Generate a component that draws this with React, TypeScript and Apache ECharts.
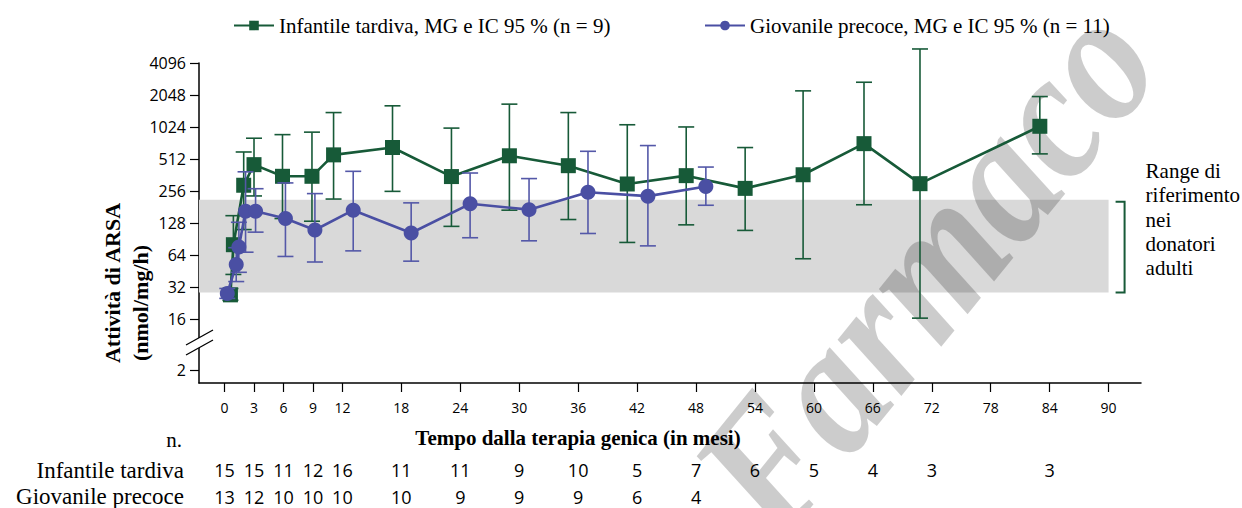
import React, { useEffect, useRef } from 'react';
import * as echarts from 'echarts';

// ---------- data ----------
const xTickValues = [0, 3, 6, 9, 12, 18, 24, 30, 36, 42, 48, 54, 60, 66, 72, 78, 84, 90];
const yTickValues = [16, 32, 64, 128, 256, 512, 1024, 2048, 4096];
const yBreakLabel = 2;

// Infantile tardiva (plotted months, geometric mean, 95% CI)
const greenMonths = [0.6, 0.9, 1.95, 3.0, 5.9, 8.9, 11.1, 17.1, 23.1, 29.0, 35.0, 41.0, 47.0, 53.0, 58.9, 65.1, 70.8, 83.0];
const greenMean = [27, 80, 290, 453, 352, 352, 560, 657, 350, 549, 443, 298, 357, 271, 364, 714, 300, 1040];
const greenLow = [24, 42, 111, 230, 141, 133, 215, 254, 119, 169, 138, 84, 123, 109, 59, 190, 16.3, 572];
const greenHigh = [31, 150, 596, 803, 868, 916, 1400, 1620, 1000, 1680, 1400, 1075, 1025, 656, 2240, 2700, 5550, 1980];

// Giovanile precoce
const blueMonths = [0.28, 1.19, 1.46, 2.14, 3.16, 6.2, 9.2, 13.1, 19.0, 25.0, 31.0, 37.0, 43.1, 49.0];
const blueMean = [27.8, 52, 76, 165, 165, 141, 110, 169, 103, 194, 171, 249, 229, 282];
const blueLow = [25, 36, 44, 68, 105, 62, 55, 70, 56, 93, 87, 102, 78, 188];
const blueHigh = [31, 75, 130, 388, 269, 305, 242, 392, 198, 378, 335, 605, 685, 430];

// reference range in adult donors
const refRange = [28.4, 212];

// numbers at risk
const tableMonthsInf = [0, 3, 6, 9, 12, 18, 24, 30, 36, 42, 48, 54, 60, 66, 72, 84];
const nInfantile = [15, 15, 11, 12, 16, 11, 11, 9, 10, 5, 7, 6, 5, 4, 3, 3];
const tableMonthsGio = [0, 3, 6, 9, 12, 18, 24, 30, 36, 42, 48];
const nGiovanile = [13, 12, 10, 10, 10, 10, 9, 9, 9, 6, 4];

const GREEN = '#175a38';
const BLUE = '#4a4fa3';
const SERIF = '"Liberation Serif", "Times New Roman", serif';
const SANS = '"Open Sans", "Liberation Sans", sans-serif';

const X_MIN = -2.6;
const X_MAX = 93.3;
const Y_MIN = 2;
const Y_MAX = 12;
const BREAK_TICK_POS = 2.41; // axis position of the "2" label below the break

const L = (v: number) => Math.log2(v);

export default function App() {
  const ref = useRef<HTMLDivElement>(null);

  useEffect(() => {
    const chart = echarts.init(ref.current!, null, { renderer: 'svg' });

    const errRender = (color: string, halfW: number) => (params: any, api: any) => {
      const x = api.value(0);
      const lo = api.coord([x, api.value(1)]);
      const hi = api.coord([x, api.value(2)]);
      const st = { stroke: color, lineWidth: 1.6 };
      return {
        type: 'group',
        children: [
          { type: 'line', shape: { x1: lo[0], y1: lo[1], x2: hi[0], y2: hi[1] }, style: st },
          { type: 'line', shape: { x1: lo[0] - halfW, y1: lo[1], x2: lo[0] + halfW, y2: lo[1] }, style: st },
          { type: 'line', shape: { x1: hi[0] - halfW, y1: hi[1], x2: hi[0] + halfW, y2: hi[1] }, style: st },
        ],
      };
    };

    const yTickPositions = [BREAK_TICK_POS, ...yTickValues.map(L)];
    const yLabelFmt = (v: number) => (v < 3 ? String(yBreakLabel) : String(Math.round(Math.pow(2, v))));

    const baseX = {
      type: 'value',
      gridIndex: 0,
      min: X_MIN,
      max: X_MAX,
      splitLine: { show: false },
    };

    const legendCommon = {
      top: 15,
      padding: 0,
      itemWidth: 40,
      itemHeight: 12,
      textStyle: { fontFamily: SERIF, fontSize: 21, color: '#000' },
    };

    const option: any = {
      animation: false,
      backgroundColor: '#fff',
      grid: { left: 199, top: 63, width: 942, height: 320, containLabel: false },
      legend: [
        { ...legendCommon, left: 233, data: ['Infantile tardiva, MG e IC 95 % (n = 9)'] },
        { ...legendCommon, left: 704, data: ['Giovanile precoce, MG e IC 95 % (n = 11)'] },
      ],
      xAxis: [
        {
          ...baseX,
          position: 'bottom',
          axisLine: { show: true, onZero: false, lineStyle: { color: '#000', width: 1.5 } },
          axisTick: { show: true, length: 9, lineStyle: { color: '#000', width: 1.2 }, customValues: xTickValues },
          axisLabel: {
            customValues: xTickValues,
            margin: 24,
            verticalAlign: 'middle',
            fontFamily: SANS,
            fontSize: 14,
            color: '#000',
          },
        },
        {
          ...baseX,
          position: 'bottom',
          offset: 87,
          axisLine: { show: false },
          axisTick: { show: false },
          axisLabel: {
            customValues: tableMonthsInf,
            margin: 0,
            verticalAlign: 'middle',
            fontFamily: SANS,
            fontSize: 18,
            color: '#000',
            formatter: (v: number) => String(nInfantile[tableMonthsInf.indexOf(v)]),
          },
        },
        {
          ...baseX,
          position: 'bottom',
          offset: 114,
          axisLine: { show: false },
          axisTick: { show: false },
          axisLabel: {
            customValues: tableMonthsGio,
            margin: 0,
            verticalAlign: 'middle',
            fontFamily: SANS,
            fontSize: 18,
            color: '#000',
            formatter: (v: number) => String(nGiovanile[tableMonthsGio.indexOf(v)]),
          },
        },
      ],
      yAxis: {
        type: 'value',
        min: Y_MIN,
        max: Y_MAX,
        splitLine: { show: false },
        axisLine: { show: true, onZero: false, lineStyle: { color: '#000', width: 1.5 } },
        axisTick: { show: true, length: 9, lineStyle: { color: '#000', width: 1.2 }, customValues: yTickPositions },
        axisLabel: {
          customValues: yTickPositions,
          margin: 13,
          fontFamily: SANS,
          fontSize: 16,
          color: '#000',
          formatter: yLabelFmt,
        },
      },
      series: [
        {
          type: 'custom',
          name: 'band',
          z: 1,
          silent: true,
          xAxisIndex: 0,
          renderItem: (params: any, api: any) => {
            const p1 = api.coord([api.value(0), api.value(1)]);
            const p2 = api.coord([api.value(2), api.value(3)]);
            return {
              type: 'rect',
              shape: { x: p1[0], y: p2[1], width: p2[0] - p1[0], height: p1[1] - p2[1] },
              style: { fill: '#d9d9d9' },
            };
          },
          data: [[X_MIN, L(refRange[0]), 90, L(refRange[1])]],
        },
        {
          type: 'custom',
          name: 'errG',
          z: 3,
          silent: true,
          clip: false,
          xAxisIndex: 0,
          renderItem: errRender(GREEN, 8),
          data: greenMonths.map((m, i) => [m, L(greenLow[i]), L(greenHigh[i])]),
        },
        {
          type: 'line',
          name: 'Infantile tardiva, MG e IC 95 % (n = 9)',
          z: 4,
          xAxisIndex: 0,
          data: greenMonths.map((m, i) => [m, L(greenMean[i])]),
          symbol: 'rect',
          symbolSize: 15,
          itemStyle: { color: GREEN },
          lineStyle: { color: GREEN, width: 2.6 },
        },
        {
          type: 'custom',
          name: 'errB',
          z: 5,
          silent: true,
          clip: false,
          xAxisIndex: 0,
          renderItem: errRender('#5458a8', 8),
          data: blueMonths.map((m, i) => [m, L(blueLow[i]), L(blueHigh[i])]),
        },
        {
          type: 'line',
          name: 'Giovanile precoce, MG e IC 95 % (n = 11)',
          z: 6,
          xAxisIndex: 0,
          data: blueMonths.map((m, i) => [m, L(blueMean[i])]),
          symbol: 'circle',
          symbolSize: 15,
          itemStyle: { color: BLUE },
          lineStyle: { color: BLUE, width: 2.6 },
        },
      ],
    };

    chart.setOption(option);

    const bandTopRight = chart.convertToPixel({ gridIndex: 0 }, [90, L(refRange[1])]) as number[];
    const bandBottom = chart.convertToPixel({ gridIndex: 0 }, [90, L(refRange[0])]) as number[];
    const axisOrigin = chart.convertToPixel({ gridIndex: 0 }, [X_MIN, 3.28]) as number[];
    const bx = bandTopRight[0] + 16;
    const ax = axisOrigin[0];
    const ay = axisOrigin[1];

    chart.setOption({
      graphic: [
        // axis break marks
        {
          type: 'polygon',
          z: 10,
          shape: { points: [[ax - 13, ay + 3], [ax + 14, ay - 12], [ax + 14, ay - 2], [ax - 13, ay + 13]] },
          style: { fill: '#fff' },
        },
        { type: 'line', z: 11, shape: { x1: ax - 13, y1: ay + 3, x2: ax + 14, y2: ay - 12 }, style: { stroke: '#000', lineWidth: 1.3 } },
        { type: 'line', z: 11, shape: { x1: ax - 13, y1: ay + 13, x2: ax + 14, y2: ay - 2 }, style: { stroke: '#000', lineWidth: 1.3 } },
        // bracket
        {
          type: 'polyline',
          z: 10,
          shape: { points: [[bx - 9, bandTopRight[1] + 2], [bx, bandTopRight[1] + 2], [bx, bandBottom[1]], [bx - 9, bandBottom[1]]] },
          style: { stroke: GREEN, lineWidth: 2, fill: 'none' },
        },
        {
          type: 'text',
          z: 10,
          x: bx + 21,
          y: bandTopRight[1] + 20,
          style: {
            text: 'Range di\nriferimento\nnei\ndonatori\nadulti',
            font: `21px ${SERIF}`,
            fill: '#000',
            lineHeight: 24.3,
            textAlign: 'left',
            textVerticalAlign: 'middle',
          },
        },
        // y axis title
        {
          type: 'text',
          z: 10,
          x: 112,
          y: 283,
          rotation: Math.PI / 2,
          style: { text: 'Attività di ARSA', font: `bold 22px ${SERIF}`, fill: '#000', textAlign: 'center', textVerticalAlign: 'middle' },
        },
        {
          type: 'text',
          z: 10,
          x: 140,
          y: 303,
          rotation: Math.PI / 2,
          style: { text: '(nmol/mg/h)', font: `bold 22px ${SERIF}`, fill: '#000', textAlign: 'center', textVerticalAlign: 'middle' },
        },
        // x axis title
        {
          type: 'text',
          z: 10,
          x: 578,
          y: 438,
          style: { text: 'Tempo dalla terapia genica (in mesi)', font: `bold 21px ${SERIF}`, fill: '#000', textAlign: 'center', textVerticalAlign: 'middle' },
        },
        // table labels
        {
          type: 'text', z: 10, x: 182, y: 440,
          style: { text: 'n.', font: `21px ${SERIF}`, fill: '#000', textAlign: 'right', textVerticalAlign: 'middle' },
        },
        {
          type: 'text', z: 10, x: 184, y: 470,
          style: { text: 'Infantile tardiva', font: `23px ${SERIF}`, fill: '#000', textAlign: 'right', textVerticalAlign: 'middle' },
        },
        {
          type: 'text', z: 10, x: 184, y: 496,
          style: { text: 'Giovanile precoce', font: `23px ${SERIF}`, fill: '#000', textAlign: 'right', textVerticalAlign: 'middle' },
        },
        // watermark
        {
          type: 'text',
          z: 2,
          silent: true,
          x: 925,
          y: 268,
          rotation: (51 * Math.PI) / 180,
          scaleX: 0.88,
          style: {
            text: 'Farmaco',
            font: `italic bold 185px ${SERIF}`,
            fill: 'rgba(0,0,0,0.2)',
            textAlign: 'center',
            textVerticalAlign: 'middle',
          },
        },
      ],
    });

    return () => chart.dispose();
  }, []);

  return (
    <div
      ref={ref}
      style={{ position: 'fixed', left: 0, top: 0, width: 1242, height: 508, background: '#fff' }}
    />
  );
}
